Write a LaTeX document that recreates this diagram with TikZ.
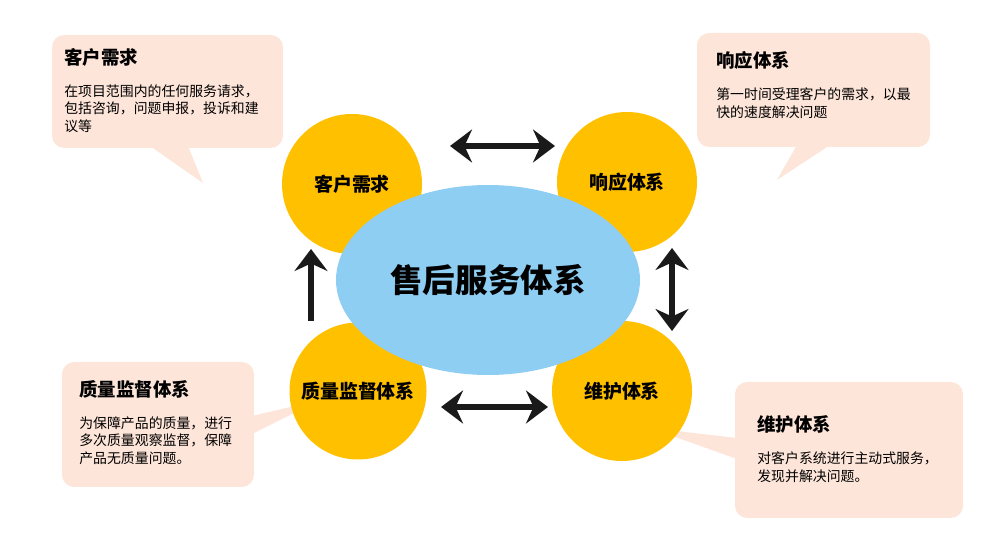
\documentclass[tikz,border=0pt]{standalone}
\usepackage{fontspec}
\setmainfont{Noto Sans CJK SC}
\usepackage{tikz}
\usetikzlibrary{arrows.meta}
\usetikzlibrary{positioning}
\definecolor{peachA}{RGB}{253,229,217}
\definecolor{goldA}{RGB}{255,192,0}
\definecolor{skyA}{RGB}{143,206,243}
\definecolor{inkA}{RGB}{26,26,26}
\tikzset{
	>={Stealth[length=4.4mm, width=6.6mm, inset=1.5mm]},
	bubble/.style={fill=peachA, rounded corners=7pt},
	tail/.style={fill=peachA},
	part/.style={circle, fill=goldA, minimum size=140*0.02cm, inner sep=0pt, font=\fontsize{10.8}{13}\selectfont\bfseries},
	core/.style={ellipse, fill=skyA, minimum width=304*0.02cm, minimum height=190*0.02cm, inner sep=0pt, font=\fontsize{18.5}{22}\selectfont\bfseries},
	twoway/.style={<->, inkA, line width=3.3pt},
	oneway/.style={->, inkA, line width=3.3pt},
	headtext/.style={anchor=west, font=\fontsize{10.5}{12}\selectfont\bfseries, inner sep=0pt},
	bodytext/.style={anchor=north west, align=left, font=\fontsize{7.9}{10.2}\selectfont, inner sep=0pt},
}
\usetikzlibrary{shapes.geometric}
\begin{document}
\begin{tikzpicture}[x=0.02cm, y=-0.02cm, line join=round]
	\useasboundingbox (0,0) rectangle (1000,546);
	
	% ---- Callouts ----
	\fill[bubble] (52,35) rectangle (283,148);
	\fill[tail] (150,146) -- (203,183) -- (188,146) -- cycle;
	\node[headtext] (t1) at (64,57) {客户需求};
	\node[bodytext] (b1) at (64,84) {在项目范围内的任何服务请求，\\包括咨询，问题申报，投诉和建\\议等};
	
	\fill[bubble] (697,33) rectangle (930,147);
	\fill[tail] (797,145) -- (777,180) -- (830,145) -- cycle;
	\node[headtext] (t2) at (716,60) {响应体系};
	\node[bodytext] (b2) at (716,87) {第一时间受理客户的需求，以最\\快的速度解决问题};
	
	\fill[bubble] (62,362) rectangle (254,487);
	\fill[tail] (252,416) -- (320,400) -- (252,434) -- cycle;
	\node[headtext] (t3) at (79,389) {质量监督体系};
	\node[bodytext] (b3) at (79,416) {为保障产品的质量，进行\\多次质量观察监督，保障\\产品无质量问题。};
	
	\fill[bubble] (735,382) rectangle (963,518);
	\fill[tail] (737,438) -- (650,428) -- (737,459) -- cycle;
	\node[headtext] (t4) at (757,424) {维护体系};
	\node[bodytext] (b4) at (757,451) {对客户系统进行主动式服务，\\发现并解决问题。};
	
	% ---- Parts ----
	\node[part] (need) at (352,184) {客户需求};
	\node[part] (resp) at (627,182) {响应体系};
	\node[part, minimum size=137*0.02cm] (qual) at (358,391) {质量监督体系};
	\node[part] (keep) at (622,391) {维护体系};
	
	% ---- Core ----
	\node[core] (core) at (488,280) {售后服务体系};
	
	% ---- Arrows ----
	\coordinate (a1) at (450,146);
	\coordinate (a2) at (555,146);
	\coordinate (a3) at (672,248);
	\coordinate (a4) at (672,331);
	\coordinate (a5) at (441,407);
	\coordinate (a6) at (548,407);
	\coordinate (a7) at (311,321);
	\coordinate (a8) at (311,249);
	\draw[twoway] (a1) -- (a2);
	\draw[twoway] (a3) -- (a4);
	\draw[twoway] (a5) -- (a6);
	\draw[oneway] (a7) -- (a8);
	
\end{tikzpicture}
\end{document}
